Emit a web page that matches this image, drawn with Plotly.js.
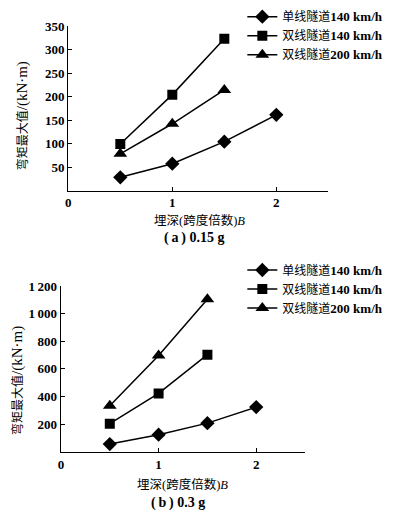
<!DOCTYPE html>
<html><head><meta charset="utf-8">
<script src="https://cdn.plot.ly/plotly-3.0.1.min.js"></script>
<style>html,body{margin:0;padding:0;background:#fff;}#chart{width:393px;height:516px;}</style>
</head><body><div id="chart"></div>
<script>
// ---- data ----
const depth = [0.5, 1, 1.5, 2];
const seriesNames = ['单线隧道140 km/h', '双线隧道140 km/h', '双线隧道200 km/h'];
// (a) 0.15 g
const a_single140 = [28, 57, 104, 161];
const a_double140 = [99, 204, 323];
const a_double200 = [78, 142, 214];
// (b) 0.3 g
const b_single140 = [55, 123, 207, 323];
const b_double140 = [203, 422, 703];
const b_double200 = [333, 696, 1104];
// ticks
const xTickVals = [0, 1, 2];
const xTickText = ['0', '1', '2'];
const aYTickVals = [50, 100, 150, 200, 250, 300, 350];
const aYTickText = ['50', '100', '150', '200', '250', '300', '350'];
const bYTickVals = [200, 400, 600, 800, 1000, 1200];
const bYTickText = ['200', '400', '600', '800', '1\u2009000', '1\u2009200'];
const yTitleCJK = '弯矩最大值';
const yTitleUnit = '/(kN·m)';
const xTitleCJK = '埋深(跨度倍数)';
const xTitleVar = 'B';
const captions = ['(\u2009a\u2009) 0.15 g', '(\u2009b\u2009) 0.3 g'];

const FONT = '"Liberation Serif", "Noto Sans CJK SC", serif';
const symbols = ['diamond', 'square', 'triangle-up'];
const sizes = [11, 10, 12];

function fmtName(n) {
  return n.replace(/([0-9].*)$/, '<span style="font-size:13px"><b>$1</b></span>');
}
function tr(vals, i, xa, ya, legend) {
  return {
    x: depth.slice(0, vals.length), y: vals, xaxis: xa, yaxis: ya,
    name: fmtName(seriesNames[i]), legend: legend, type: 'scatter', mode: 'lines+markers',
    line: {color: '#000', width: 1.5},
    marker: {symbol: symbols[i], size: sizes[i], color: '#000'}
  };
}
const data = [
  tr(a_single140, 0, 'x', 'y', 'legend'),
  tr(a_double140, 1, 'x', 'y', 'legend'),
  tr(a_double200, 2, 'x', 'y', 'legend'),
  tr(b_single140, 0, 'x2', 'y2', 'legend2'),
  tr(b_double140, 1, 'x2', 'y2', 'legend2'),
  tr(b_double200, 2, 'x2', 'y2', 'legend2')
];

const axBase = {
  showgrid: false, zeroline: false, showline: true, linecolor: '#000', linewidth: 1.3,
  ticks: 'inside', ticklen: 4, tickwidth: 1, tickcolor: '#000',
  tickfont: {family: FONT, size: 13, color: '#000', weight: 'bold'}, tickmode: 'array', fixedrange: true
};
function ax(extra) { return Object.assign({}, axBase, extra); }

function ann(text, x, y, extra) {
  return Object.assign({text: text, x: x, y: y, xref: 'paper', yref: 'paper',
    showarrow: false, xanchor: 'center', yanchor: 'middle',
    font: {family: FONT, size: 12, color: '#000'}}, extra || {});
}
const yTitle = yTitleCJK + '<span style="font-size:15px">' + yTitleUnit + '</span>';
const xTitle = xTitleCJK + '<i>' + xTitleVar + '</i>';
const legFont = {family: FONT, size: 12, color: '#000'};

const layout = {
  width: 393, height: 516, margin: {l: 0, r: 0, t: 0, b: 0},
  paper_bgcolor: '#fff', plot_bgcolor: '#fff', showlegend: true,
  xaxis: ax({domain: [0.1738, 0.8354], range: [0, 2.5], tickvals: xTickVals, ticktext: xTickText, anchor: 'y'}),
  yaxis: ax({domain: [0.6308, 0.9496], range: [0, 350], tickvals: aYTickVals, ticktext: aYTickText, anchor: 'x'}),
  xaxis2: ax({domain: [0.1552, 0.7761], range: [0, 2.5], tickvals: xTickVals, ticktext: xTickText, anchor: 'y2'}),
  yaxis2: ax({domain: [0.1246, 0.4457], range: [0, 1200], tickvals: bYTickVals, ticktext: bYTickText, anchor: 'x2'}),
  legend: {x: 0.6166, y: 0.9957, xanchor: 'left', yanchor: 'top', bgcolor: 'rgba(0,0,0,0)',
    font: legFont, tracegroupgap: 0, itemwidth: 30},
  legend2: {x: 0.6166, y: 0.5048, xanchor: 'left', yanchor: 'top', bgcolor: 'rgba(0,0,0,0)',
    font: legFont, tracegroupgap: 0, itemwidth: 30},
  annotations: [
    ann(yTitle, 0.0593, 0.7752, {textangle: -90}),
    ann(yTitle, 0.0458, 0.2636, {textangle: -90}),
    ann(xTitle, 0.5076, 0.5736, {font: {family: FONT, size: 12.5, color: '#000'}}),
    ann(xTitle, 0.4644, 0.0601, {font: {family: FONT, size: 12.5, color: '#000'}}),
    ann(captions[0], 0.4929, 0.5382, {font: {family: FONT, size: 14, color: '#000', weight: 'bold'}}),
    ann(captions[1], 0.4538, 0.0246, {font: {family: FONT, size: 14, color: '#000', weight: 'bold'}})
  ]
};
Plotly.newPlot('chart', data, layout, {staticPlot: true, displayModeBar: false});
</script></body></html>
